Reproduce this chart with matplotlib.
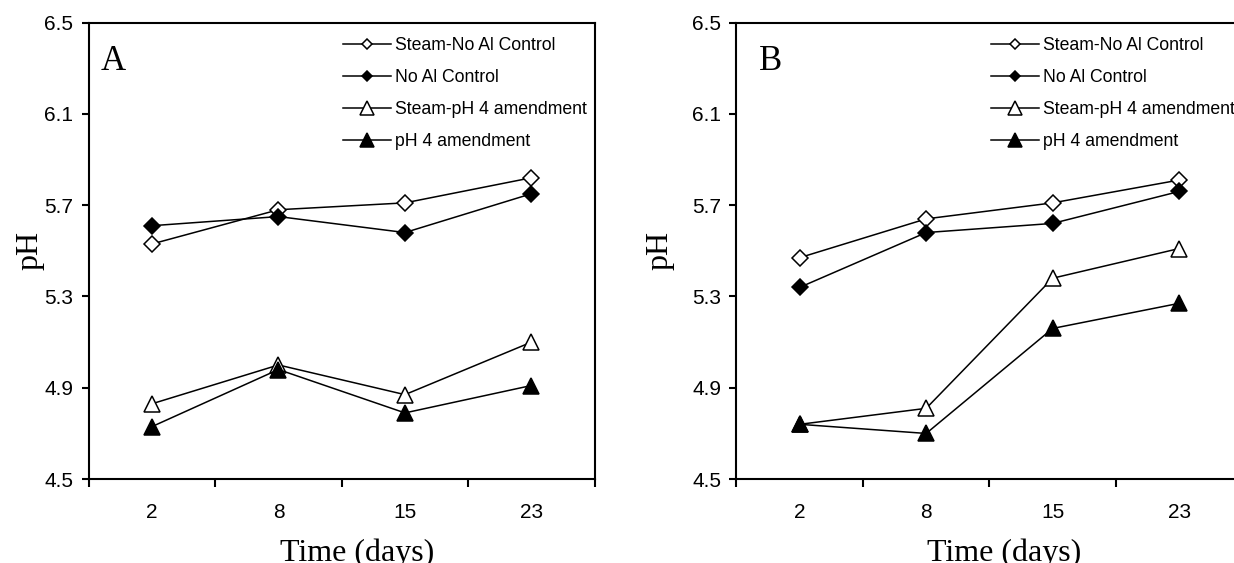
import matplotlib.pyplot as plt
from matplotlib.ticker import FixedLocator, NullFormatter

days = ["2", "8", "15", "23"]
series_names = ["Steam-No Al Control", "No Al Control",
                "Steam-pH 4 amendment", "pH 4 amendment"]

# panel A
a_steam_noal = [5.53, 5.68, 5.71, 5.82]
a_noal = [5.61, 5.65, 5.58, 5.75]
a_steam_ph4 = [4.83, 5.00, 4.87, 5.10]
a_ph4 = [4.73, 4.98, 4.79, 4.91]

# panel B
b_steam_noal = [5.47, 5.64, 5.71, 5.81]
b_noal = [5.34, 5.58, 5.62, 5.76]
b_steam_ph4 = [4.74, 4.81, 5.38, 5.51]
b_ph4 = [4.74, 4.70, 5.16, 5.27]

yticks = [4.5, 4.9, 5.3, 5.7, 6.1, 6.5]

styles = [
    dict(marker="D", mfc="white", ms=8),
    dict(marker="D", mfc="black", ms=8),
    dict(marker="^", mfc="white", ms=12),
    dict(marker="^", mfc="black", ms=12),
]
legend_ms = [5.2, 5.2, 9.4, 9.4]

fig = plt.figure(figsize=(12.34, 5.63), dpi=100)
ax_a = fig.add_axes([0.0719, 0.149, 0.410, 0.811])
ax_b = fig.add_axes([0.5968, 0.149, 0.410, 0.811])

x = list(range(len(days)))
panels = [
    (ax_a, "A", 0.024, 0, [a_steam_noal, a_noal, a_steam_ph4, a_ph4]),
    (ax_b, "B", 0.045, 13, [b_steam_noal, b_noal, b_steam_ph4, b_ph4]),
]

for ax, letter, lx, ypad, data in panels:
    for name, vals, st in zip(series_names, data, styles):
        ax.plot(x, vals, color="black", lw=1.1, mec="black", mew=1.1,
                label=name, **st)
    ax.set_xlim(-0.5, 3.5)
    ax.set_ylim(4.5, 6.5)
    ax.set_yticks(yticks)
    ax.set_yticklabels([f"{v:.1f}" for v in yticks])
    ax.xaxis.set_major_locator(FixedLocator([-0.5, 0.5, 1.5, 2.5, 3.5]))
    ax.xaxis.set_major_formatter(NullFormatter())
    ax.xaxis.set_minor_locator(FixedLocator(x))
    ax.set_xticklabels(days, minor=True)
    ax.tick_params(axis="x", which="major", direction="out", length=6,
                   width=1.5)
    ax.tick_params(axis="x", which="minor", length=0, pad=17,
                   labelsize=15)
    ax.tick_params(axis="y", direction="out", length=5, width=1.5,
                   labelsize=15, pad=6)
    for lab in ax.get_xticklabels(minor=True) + ax.get_yticklabels():
        lab.set_fontfamily("Liberation Sans")
    for sp in ax.spines.values():
        sp.set_linewidth(1.5)
    ax.set_xlabel("Time (days)", fontfamily="Liberation Serif",
                  fontsize=23, labelpad=12)
    ax.xaxis.label.set_x(0.53)
    ax.set_ylabel("pH", fontfamily="Liberation Serif", fontsize=23,
                  labelpad=ypad)
    ax.text(lx, 0.95, letter, transform=ax.transAxes,
            fontfamily="Liberation Serif", fontsize=25, va="top")
    leg = ax.legend(loc="upper left", bbox_to_anchor=(0.503, 0.969),
                    frameon=False,
                    prop={"family": "Liberation Sans", "size": 12.7},
                    handlelength=2.7, handletextpad=0.25, labelspacing=0.86,
                    borderaxespad=0, borderpad=0)
    for h, ms in zip(leg.legend_handles, legend_ms):
        h.set_markersize(ms)

fig.savefig("out.png", dpi=100)
